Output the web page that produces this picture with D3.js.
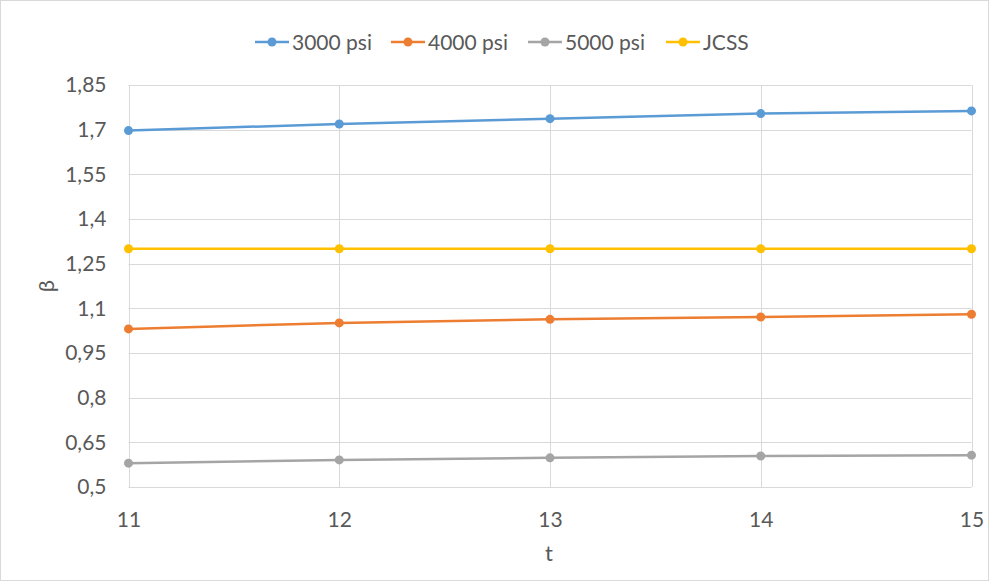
<!DOCTYPE html>
<html>
<head>
<meta charset="utf-8">
<script src="https://cdn.jsdelivr.net/npm/d3@7"></script>
<style>
  html, body { margin: 0; padding: 0; background: #fff; }
  svg { display: block; }
  text { font-family: Lato, "Open Sans", sans-serif; fill: #595959; }
</style>
</head>
<body>
<svg id="chart" width="989" height="581"></svg>
<script>
// Reliability index β against t for three concrete strengths and the JCSS target
const tValues = [11, 12, 13, 14, 15];
const psi3000 = [1.697, 1.719, 1.737, 1.754, 1.763];
const psi4000 = [1.031, 1.051, 1.063, 1.071, 1.080];
const psi5000 = [0.580, 0.591, 0.598, 0.604, 0.607];
const jcss = [1.3, 1.3, 1.3, 1.3, 1.3];
const yTicks = [0.5, 0.65, 0.8, 0.95, 1.1, 1.25, 1.4, 1.55, 1.7, 1.85];
const seriesNames = ["3000 psi", "4000 psi", "5000 psi", "JCSS"];
const seriesColors = ["#5B9BD5", "#ED7D31", "#A5A5A5", "#FFC000"];
const seriesValues = [psi3000, psi4000, psi5000, jcss];

const svg = d3.select("#chart");
const W = 989, H = 581;
const m = { left: 128.5, right: 971.5, top: 85, bottom: 487 };
const FS = 21;

// chart frame
svg.append("rect").attr("x", 0.5).attr("y", 0.5).attr("width", W - 1).attr("height", H - 1)
  .attr("fill", "#fff").attr("stroke", "#d9d9d9");

const x = d3.scaleLinear().domain([11, 15]).range([m.left, m.right]);
const y = d3.scaleLinear().domain([0.5, 1.85]).range([m.bottom, m.top]);

const fmt = v => String(v).replace(".", ",");

// horizontal gridlines
svg.append("g").selectAll("line").data(yTicks).join("line")
  .attr("x1", m.left).attr("x2", m.right)
  .attr("y1", d => Math.round(y(d)) + 0.5).attr("y2", d => Math.round(y(d)) + 0.5)
  .attr("stroke", "#d9d9d9").attr("stroke-width", 1);

// vertical gridlines
svg.append("g").selectAll("line").data(tValues).join("line")
  .attr("x1", d => Math.round(x(d)) + 0.5).attr("x2", d => Math.round(x(d)) + 0.5)
  .attr("y1", m.top).attr("y2", m.bottom)
  .attr("stroke", "#d9d9d9").attr("stroke-width", 1);

// y axis labels
const yAxis = d3.axisLeft(y).tickValues(yTicks).tickFormat(fmt).tickSize(0).tickPadding(22);
const gy = svg.append("g").attr("transform", `translate(${m.left},0)`).call(yAxis);
gy.select(".domain").remove();
gy.selectAll("text").attr("font-size", FS).attr("fill", "#595959")
  .style("font-family", "Lato, 'Open Sans', sans-serif");

// x axis labels
const xAxis = d3.axisBottom(x).tickValues(tValues).tickFormat(d3.format("d")).tickSize(0).tickPadding(25);
const gx = svg.append("g").attr("transform", `translate(0,${m.bottom})`).call(xAxis);
gx.select(".domain").remove();
gx.selectAll("text").attr("font-size", FS).attr("fill", "#595959")
  .style("font-family", "Lato, 'Open Sans', sans-serif");

// axis titles
svg.append("text").attr("x", (m.left + m.right) / 2 - 1).attr("y", 561)
  .attr("text-anchor", "middle").attr("font-size", 22).text("t");
svg.append("text").attr("transform", `translate(54,${(m.top + m.bottom) / 2}) rotate(-90)`)
  .attr("text-anchor", "middle").attr("font-size", 22).text("β");

// series lines and markers
const line = d3.line().x((d, i) => x(tValues[i])).y(d => y(d));
seriesValues.forEach((vals, k) => {
  const g = svg.append("g");
  g.append("path").datum(vals).attr("d", line)
    .attr("fill", "none").attr("stroke", seriesColors[k]).attr("stroke-width", 2.5)
    .attr("stroke-linecap", "round");
  g.selectAll("circle").data(vals).join("circle")
    .attr("cx", (d, i) => x(tValues[i])).attr("cy", d => y(d)).attr("r", 4.5)
    .attr("fill", seriesColors[k]);
});

// legend
const legendX = [255, 391, 528, 666];
const legend = svg.append("g");
seriesNames.forEach((name, k) => {
  const lx = legendX[k], ly = 42;
  legend.append("line").attr("x1", lx).attr("x2", lx + 34).attr("y1", ly).attr("y2", ly)
    .attr("stroke", seriesColors[k]).attr("stroke-width", 2.5);
  legend.append("circle").attr("cx", lx + 17).attr("cy", ly).attr("r", 4.5).attr("fill", seriesColors[k]);
  legend.append("text").attr("x", lx + 37).attr("y", ly + 7.5).attr("font-size", FS).text(name);
});
</script>
</body>
</html>
